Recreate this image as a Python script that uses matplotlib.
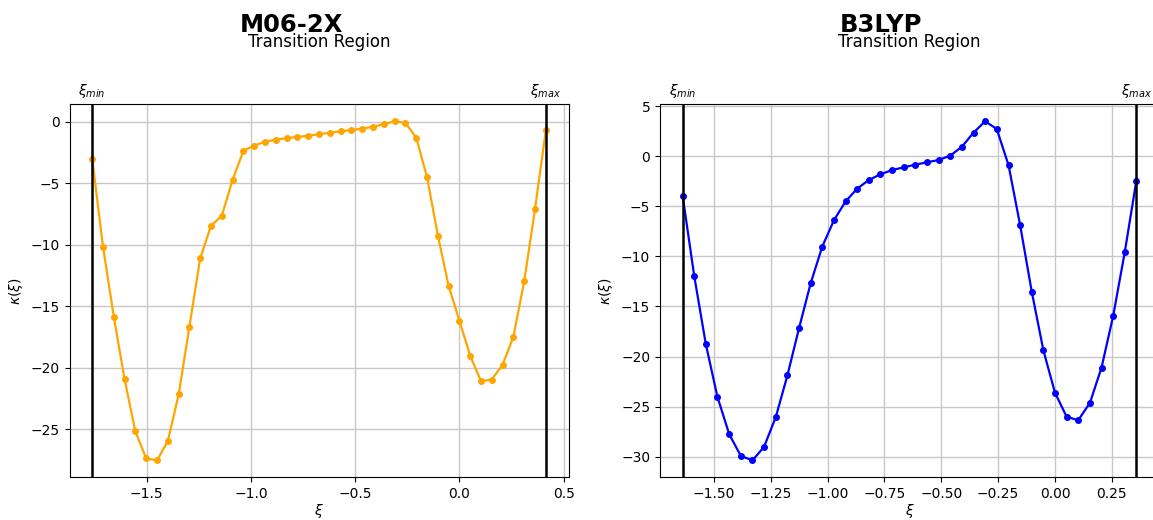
import numpy as np
import matplotlib
matplotlib.use("Agg")
import matplotlib.pyplot as plt
import matplotlib.transforms as mtransforms

# ── Data ──────────────────────────────────────────────────────────
m06_xi = [-1.762, -1.710, -1.658, -1.607, -1.555, -1.503, -1.451, -1.399,
          -1.347, -1.296, -1.244, -1.192, -1.140, -1.088, -1.036, -0.985,
          -0.933, -0.881, -0.829, -0.777, -0.725, -0.674, -0.622, -0.570,
          -0.518, -0.466, -0.414, -0.363, -0.311, -0.259, -0.207, -0.155,
          -0.103, -0.052, 0.000, 0.052, 0.104, 0.155, 0.207, 0.259,
          0.311, 0.363, 0.415]
m06_kappa = [-3.04, -10.18, -15.91, -20.93, -25.19, -27.39, -27.55, -25.98,
             -22.18, -16.72, -11.13, -8.47, -7.65, -4.72, -2.36, -1.95,
             -1.63, -1.47, -1.33, -1.25, -1.14, -1.03, -0.90, -0.79,
             -0.68, -0.57, -0.41, -0.22, 0.03, -0.11, -1.30, -4.53,
             -9.28, -13.35, -16.18, -19.06, -21.12, -20.98, -19.79, -17.51,
             -13.00, -7.11, -0.68]

b3_xi = [-1.638, -1.587, -1.536, -1.485, -1.433, -1.382, -1.331, -1.280,
         -1.228, -1.177, -1.126, -1.075, -1.024, -0.972, -0.921, -0.870,
         -0.819, -0.768, -0.716, -0.665, -0.614, -0.563, -0.512, -0.460,
         -0.409, -0.358, -0.307, -0.256, -0.204, -0.153, -0.102, -0.051,
         0.000, 0.051, 0.102, 0.154, 0.205, 0.256, 0.307, 0.358]
b3_kappa = [-3.97, -11.97, -18.77, -24.03, -27.77, -29.93, -30.37, -29.03,
            -26.03, -21.87, -17.17, -12.70, -9.03, -6.37, -4.50, -3.23,
            -2.37, -1.80, -1.37, -1.10, -0.83, -0.60, -0.37, 0.07,
            0.97, 2.37, 3.50, 2.73, -0.90, -6.90, -13.53, -19.37,
            -23.60, -26.00, -26.37, -24.63, -21.10, -15.97, -9.60, -2.47]

methods = ["M06-2X", "B3LYP"]
colors  = ["orange", "blue"]

fig = plt.figure(figsize=(11.53, 5.2), dpi=100)
ax_l = fig.add_axes([0.0603, 0.0821, 0.4328, 0.7173])
ax_r = fig.add_axes([0.5724, 0.0821, 0.4328, 0.7173])

panels = [(ax_l, m06_xi, m06_kappa), (ax_r, b3_xi, b3_kappa)]

for (ax, xi, kappa), name, col, fx in zip(panels, methods, colors, [0.2524, 0.7644]):
    ax.plot(xi, kappa, "-o", color=col, lw=1.6, ms=4)
    ax.axvline(xi[0], color="black", lw=1.8)
    ax.axvline(xi[-1], color="black", lw=1.8)
    ax.grid(True, color="#c8c8c8", lw=1.0)
    ax.set_xlabel(r"$\xi$", fontsize=10, labelpad=1)
    ax.set_ylabel(r"$\kappa(\xi)$", fontsize=10)
    ax.tick_params(labelsize=10)
    ax.set_title("Transition Region", fontsize=12, pad=41)

    trans = mtransforms.blended_transform_factory(ax.transData, ax.transAxes)
    ax.text(xi[0], 1.012, r"$\xi_{min}$", transform=trans,
            ha="center", va="bottom", fontsize=10)
    ax.text(xi[-1], 1.012, r"$\xi_{max}$", transform=trans,
            ha="center", va="bottom", fontsize=10)

    fig.text(fx, 1 - 32 / 520, name, ha="center", va="baseline",
             fontsize=17.5, fontweight="bold")

ax_l.set_xticks([-1.5, -1.0, -0.5, 0.0, 0.5])
ax_r.set_xticks([-1.5, -1.25, -1.0, -0.75, -0.5, -0.25, 0.0, 0.25])

fig.savefig("out.png", dpi=100)
